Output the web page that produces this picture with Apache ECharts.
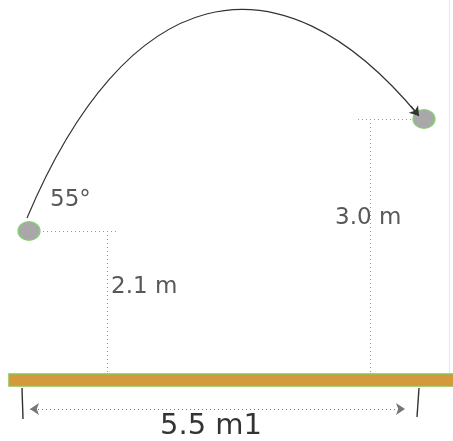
<!DOCTYPE html>
<html>
<head>
<meta charset="utf-8">
<script src="https://cdn.jsdelivr.net/npm/echarts@6/dist/echarts.min.js"></script>
<style>html,body{margin:0;padding:0;background:#fff}#c{width:453px;height:441px}</style>
</head>
<body>
<div id="c"></div>
<script>
// Diagram coordinates (x to the right, y downward), in diagram units
// Trajectory as a cubic Bezier: start, control 1, control 2, end
const trajX = [27, 126, 276, 419];
const trajY = [218, -17, -57, 116];
const arrowFrom = [411, 106];

const ballX = [29, 424];
const ballY = [231, 119];

const groundX = [9, 453];
const groundY = [374, 386];

const heightGuideX = [107, 370];
const heightGuideFromX = [43, 358];
const heightGuideToX = [118, 413];

const dimY = 409;
const dimX = [30, 405];
const dimTickTop = [[22, 388], [419, 388]];
const dimTickBottom = [[23, 419], [417, 417]];

const labelText = ['55°', '2.1 m', '3.0 m', '5.5 m1'];
const labelX = [50, 111, 335, 160];
const labelY = [200, 287, 218, 426];

const chart = echarts.init(document.getElementById('c'), null, {renderer: 'canvas'});

const guideData = [];
for (let i = 0; i < ballY.length; i++) {
  guideData.push({coords: [[heightGuideFromX[i], ballY[i]], [heightGuideToX[i], ballY[i]]]});
  guideData.push({coords: [[heightGuideX[i], ballY[i]], [heightGuideX[i], groundY[0]]]});
}

const option = {
  animation: false,
  backgroundColor: '#fff',
  grid: {left: 0, right: 0, top: 0, bottom: 0},
  xAxis: {type: 'value', min: 0, max: 453, show: false},
  yAxis: {type: 'value', min: 0, max: 441, inverse: true, show: false},
  series: [
    {
      type: 'lines', coordinateSystem: 'cartesian2d', silent: true, z: 1,
      symbol: 'none',
      lineStyle: {color: '#999', width: 1, type: [1, 3], opacity: 1},
      data: guideData
    },
    {
      type: 'lines', coordinateSystem: 'cartesian2d', silent: true, z: 1,
      symbol: 'none',
      lineStyle: {color: '#e3ecef', width: 1, opacity: 1},
      data: [{coords: [[449, 0], [449, groundY[0]]]}]
    },
    {
      type: 'custom', silent: true, z: 2,
      renderItem: function (params, api) {
        const p1 = api.coord([api.value(0), api.value(2)]);
        const p2 = api.coord([api.value(1), api.value(3)]);
        return {
          type: 'rect',
          shape: {x: p1[0], y: p1[1], width: p2[0] - p1[0] + 4, height: p2[1] - p1[1]},
          style: {fill: '#d4993a', stroke: '#8cc152', lineWidth: 1.5}
        };
      },
      data: [[groundX[0], groundX[1], groundY[0], groundY[1]]]
    },
    {
      type: 'custom', silent: true, z: 3, clip: false,
      renderItem: function (params, api) {
        const p = [0, 1, 2, 3].map(k => api.coord([api.value(2 * k), api.value(2 * k + 1)]));
        return {
          type: 'bezierCurve',
          shape: {x1: p[0][0], y1: p[0][1], cpx1: p[1][0], cpy1: p[1][1],
                  cpx2: p[2][0], cpy2: p[2][1], x2: p[3][0], y2: p[3][1]},
          style: {stroke: '#333', fill: null, lineWidth: 1.2}
        };
      },
      data: [[trajX[0], trajY[0], trajX[1], trajY[1], trajX[2], trajY[2], trajX[3], trajY[3]]]
    },
    {
      type: 'lines', coordinateSystem: 'cartesian2d', silent: true, z: 4,
      symbol: ['none', 'arrow'], symbolSize: 9,
      lineStyle: {color: '#333', width: 1.2, opacity: 1},
      data: [{coords: [arrowFrom, [trajX[3], trajY[3]]]}]
    },
    {
      type: 'scatter', silent: true, z: 3,
      symbol: 'circle', symbolSize: [22, 19],
      itemStyle: {color: '#a8a8a8', borderColor: '#86d470', borderWidth: 1.2, opacity: 1},
      data: ballX.map((x, i) => [x, ballY[i]])
    },
    {
      type: 'lines', coordinateSystem: 'cartesian2d', silent: true, z: 3,
      symbol: ['arrow', 'arrow'], symbolSize: 9,
      lineStyle: {color: '#777', width: 1, type: [1, 3], opacity: 1},
      data: [{coords: [[dimX[0], dimY], [dimX[1], dimY]]}]
    },
    {
      type: 'lines', coordinateSystem: 'cartesian2d', silent: true, z: 3,
      symbol: 'none',
      lineStyle: {color: '#333', width: 1.4, opacity: 1},
      data: dimTickTop.map((p, i) => ({coords: [p, dimTickBottom[i]]}))
    },
    {
      type: 'scatter', silent: true, z: 5,
      symbolSize: 0,
      data: labelText.map((t, i) => ({
        value: [labelX[i], labelY[i]],
        label: {
          show: true, formatter: t, position: 'inside', align: 'left', verticalAlign: 'middle',
          fontFamily: 'DejaVu Sans', fontSize: i === 3 ? 29 : 23,
          color: i === 3 ? '#000' : '#2e2e2e'
        }
      }))
    }
  ]
};
chart.setOption(option);
</script>
</body>
</html>
